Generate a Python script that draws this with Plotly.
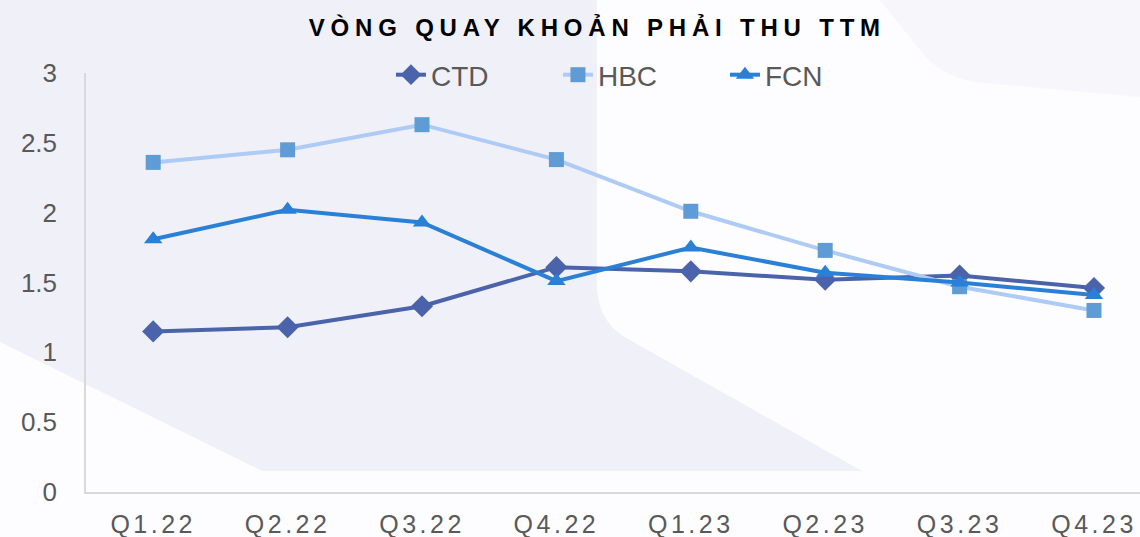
import plotly.graph_objects as go

quarters = ["Q1.22", "Q2.22", "Q3.22", "Q4.22", "Q1.23", "Q2.23", "Q3.23", "Q4.23"]
ctd = [1.15, 1.18, 1.33, 1.61, 1.58, 1.52, 1.55, 1.46]
hbc = [2.36, 2.45, 2.63, 2.38, 2.01, 1.73, 1.47, 1.30]
fcn = [1.81, 2.02, 1.93, 1.51, 1.75, 1.57, 1.50, 1.41]
y_ticks = [0, 0.5, 1, 1.5, 2, 2.5, 3]
y_tick_text = ["0", "0.5", "1", "1.5", "2", "2.5", "3"]
title_text = "VÒNG QUAY KHOẢN PHẢI THU TTM"

W, H = 1140, 537
ML, MR, MT, MB = 86, 0, 73, 45
PW, PH = W - ML - MR, H - MT - MB


def px(x, y):
    return (x - ML) / PW, (H - MB - y) / PH


def path(cmds):
    out = []
    for c in cmds:
        if c[0] == "Q":
            a = px(c[1], c[2]); b = px(c[3], c[4])
            out.append(f"Q{a[0]:.4f},{a[1]:.4f} {b[0]:.4f},{b[1]:.4f}")
        else:
            a = px(c[1], c[2])
            out.append(f"{c[0]}{a[0]:.4f},{a[1]:.4f}")
    return " ".join(out) + " Z"


fig = go.Figure()
fig.add_trace(go.Scatter(x=quarters, y=ctd, name="CTD", mode="lines+markers",
                         line=dict(color="#4A63AB", width=4),
                         marker=dict(symbol="diamond", size=17, color="#4A63AB")))
fig.add_trace(go.Scatter(x=quarters, y=hbc, name="HBC", mode="lines+markers",
                         line=dict(color="#AECBF5", width=4),
                         marker=dict(symbol="square", size=15, color="#5F9BD4")))
fig.add_trace(go.Scatter(x=quarters, y=fcn, name="FCN", mode="lines+markers",
                         line=dict(color="#2A7FD7", width=4),
                         marker=dict(symbol="triangle-up", size=16, color="#2A7FD7")))

shapes = [
    dict(type="path", xref="paper", yref="paper", layer="below", line=dict(width=0),
         fillcolor="#F0F0F8",
         path=path([("M", 0, 0), ("L", 597, 0), ("L", 597, 290),
                    ("Q", 600, 325, 630, 340), ("L", 862, 471), ("L", 262, 471),
                    ("L", 0, 342)])),
    dict(type="path", xref="paper", yref="paper", layer="below", line=dict(width=0),
         fillcolor="#F6F6FB",
         path=path([("M", 880, 0), ("L", 1140, 0), ("L", 1140, 97), ("L", 975, 82),
                    ("Q", 940, 76, 920, 50)])),
]

fig.update_layout(
    width=W, height=H,
    margin=dict(l=ML, r=MR, t=MT, b=MB, autoexpand=False),
    paper_bgcolor="#FDFDFF",
    plot_bgcolor="rgba(0,0,0,0)",
    shapes=shapes,
    title=dict(text=f'<span style="letter-spacing:5.8px">{title_text}</span>',
               x=0.524, xanchor="center", y=1 - 28 / H, yanchor="middle", yref="container",
               font=dict(family="Liberation Sans, Arial", size=24, color="#000000", weight="bold")),
    legend=dict(orientation="h", x=0.527, xanchor="center", y=1 - 75 / H, yref="container",
                yanchor="middle", font=dict(family="Liberation Sans, Arial", size=28, color="#595959"),
                bgcolor="rgba(0,0,0,0)", entrywidth=122),
    showlegend=True,
)
fig.update_xaxes(range=[-0.5, -0.5 + PW / 134.4], showgrid=False, zeroline=False,
                 showline=True, linecolor="#D9D9D9", linewidth=1.5, ticks="",
                 tickvals=quarters,
                 ticktext=[f'<span style="letter-spacing:3.5px">{q}</span>' for q in quarters],
                 tickfont=dict(family="Liberation Sans, Arial", size=25, color="#595959"),
                 ticklabelstandoff=9)
fig.update_yaxes(range=[0, 3], tickvals=y_ticks, ticktext=y_tick_text, showgrid=False,
                 zeroline=False, showline=True, linecolor="#D9D9D9", linewidth=1.5, ticks="",
                 tickfont=dict(family="Liberation Sans, Arial", size=26, color="#595959"),
                 ticklabelstandoff=22)

fig.write_html("out.html", config={"displayModeBar": False},
               post_script="document.body.style.margin='0px';")
